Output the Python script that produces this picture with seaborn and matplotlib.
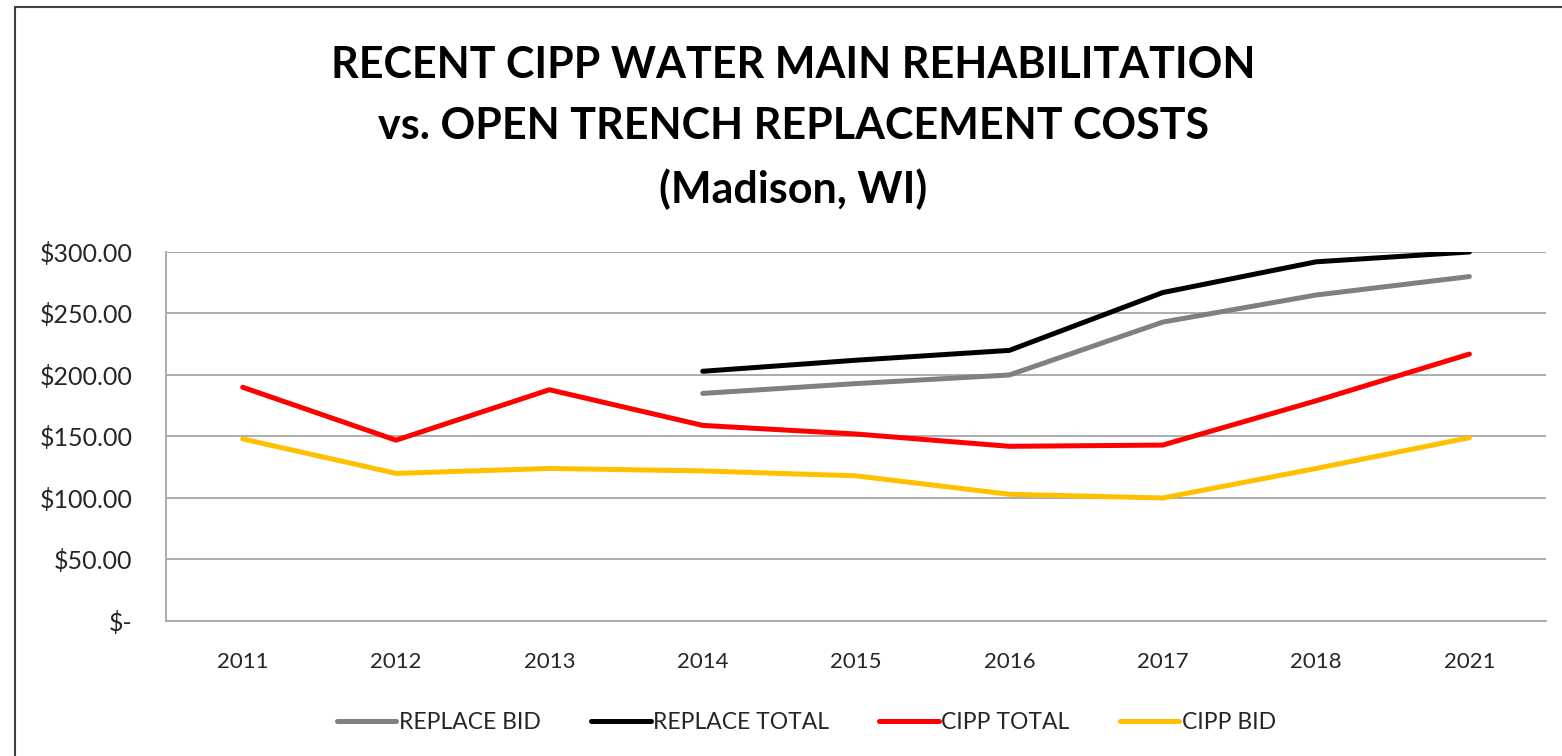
import seaborn as sns
import pandas as pd
import numpy as np
import matplotlib.pyplot as plt
from matplotlib.lines import Line2D
from matplotlib.ticker import FuncFormatter

# values ($ per foot)
years = ['2011', '2012', '2013', '2014', '2015', '2016', '2017', '2018', '2021']
replace_bid = [np.nan, np.nan, np.nan, 185, 193, 200, 243, 265, 280]
replace_total = [np.nan, np.nan, np.nan, 203, 212, 220, 267, 292, 300]
cipp_total = [190, 147, 188, 159, 152, 142, 143, 179, 217]
cipp_bid = [148, 120, 124, 122, 118, 103, 100, 124, 149]

series = ['REPLACE BID', 'REPLACE TOTAL', 'CIPP TOTAL', 'CIPP BID']
colors = ['#808080', '#000000', '#ff0000', '#ffc000']

rows = []
for name, vals in zip(series, [replace_bid, replace_total, cipp_total, cipp_bid]):
    for i, v in enumerate(vals):
        rows.append({'pos': i, 'Series': name, 'Cost': v})
df = pd.DataFrame(rows)

sns.set_style('white')
plt.rcParams['font.family'] = ['Lato', 'DejaVu Sans']

fig = plt.figure(figsize=(15.62, 7.56), dpi=100)
ax = fig.add_axes([0.1063, 0.1786, 0.8835, 0.4881])

sns.lineplot(data=df, x='pos', y='Cost', hue='Series', hue_order=series,
             palette=colors, linewidth=3.6, sort=False, ax=ax, legend=True)

ax.set_xlim(-0.5, len(years) - 0.5)
ax.set_ylim(0, 300)
ax.set_yticks(np.arange(0, 301, 50))
ax.yaxis.set_major_formatter(FuncFormatter(lambda v, p: '$-' if v == 0 else f'${v:,.2f}'))
ax.set_xticks(range(len(years)))
ax.set_xticklabels(years)
ax.tick_params(axis='both', length=0, colors='#262626')
ax.tick_params(axis='x', pad=22, labelsize=16)
ax.tick_params(axis='y', pad=24, labelsize=18)
ax.set_xlabel('')
ax.set_ylabel('')
ax.grid(axis='y', color='#a6a6a6', linewidth=1.3)
for s in ['top', 'right']:
    ax.spines[s].set_visible(False)
for s in ['left', 'bottom']:
    ax.spines[s].set_color('#a6a6a6')
    ax.spines[s].set_linewidth(1.3)

ax.legend(loc='upper center', bbox_to_anchor=(0.464, -0.19), ncol=4, frameon=False,
          fontsize=16.5, handlelength=2.6, handletextpad=0.1, columnspacing=2.2)

fig.text(0.508, 0.94, 'RECENT CIPP WATER MAIN REHABILITATION\nvs. OPEN TRENCH REPLACEMENT COSTS\n(Madison, WI)',
         ha='center', va='top', fontsize=31, fontweight='bold', linespacing=1.64, color='black')

# outer chart frame
fig.add_artist(Line2D([15 / 1562, 15 / 1562], [0, 1 - 7 / 756], color='#404040', linewidth=1.5))
fig.add_artist(Line2D([15 / 1562, 1], [1 - 7 / 756, 1 - 7 / 756], color='#404040', linewidth=1.5))

plt.savefig('out.png', dpi=100)
